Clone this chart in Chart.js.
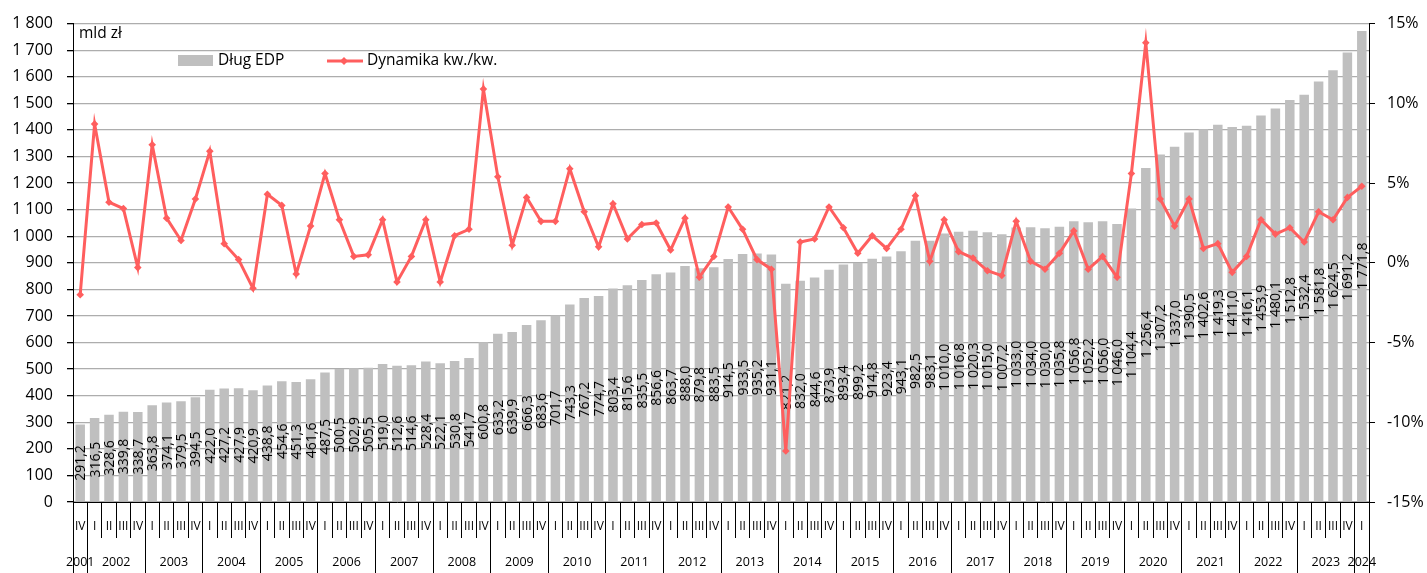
<!DOCTYPE html>
<html>
<head>
<meta charset="utf-8">
<script src="https://cdn.jsdelivr.net/npm/chart.js@4.4.1/dist/chart.umd.min.js"></script>
<style>
  html, body { margin: 0; padding: 0; background: #ffffff; }
  #wrap { width: 1427px; height: 573px; position: relative; }
</style>
</head>
<body>
<div id="wrap"><canvas id="c" width="1427" height="573"></canvas></div>
<script>
// ---------- DATA ----------
const Q = ['I', 'II', 'III', 'IV'];
const quarterLabels = ['IV'].concat(
  Q, Q, Q, Q, Q, Q, Q, Q, Q, Q, Q,
  Q, Q, Q, Q, Q, Q, Q, Q, Q, Q, Q,
  ['I']
);
const yearLabels = ['2001', '2002', '2003', '2004', '2005', '2006', '2007', '2008', '2009', '2010', '2011', '2012',
  '2013', '2014', '2015', '2016', '2017', '2018', '2019', '2020', '2021', '2022', '2023', '2024'];
const yearSpans = [1, 4, 4, 4, 4, 4, 4, 4, 4, 4, 4, 4, 4, 4, 4, 4, 4, 4, 4, 4, 4, 4, 4, 1];

// Dług EDP, mld zł
const debt = [
  291.2,
  316.5, 328.6, 339.8, 338.7,
  363.8, 374.1, 379.5, 394.5,
  422.0, 427.2, 427.9, 420.9,
  438.8, 454.6, 451.3, 461.6,
  487.5, 500.5, 502.9, 505.5,
  519.0, 512.6, 514.6, 528.4,
  522.1, 530.8, 541.7, 600.8,
  633.2, 639.9, 666.3, 683.6,
  701.7, 743.3, 767.2, 774.7,
  803.4, 815.6, 835.5, 856.6,
  863.7, 888.0, 879.8, 883.5,
  914.5, 933.5, 935.2, 931.1,
  821.2, 832.0, 844.6, 873.9,
  893.4, 899.2, 914.8, 923.4,
  943.1, 982.5, 983.1, 1010.0,
  1016.8, 1020.3, 1015.0, 1007.2,
  1033.0, 1034.0, 1030.0, 1035.8,
  1056.8, 1052.2, 1056.0, 1046.0,
  1104.4, 1256.4, 1307.2, 1337.0,
  1390.5, 1402.6, 1419.3, 1411.0,
  1416.1, 1453.9, 1480.1, 1512.8,
  1532.4, 1581.8, 1624.5, 1691.2,
  1771.8
];

// Dynamika kw./kw., %
const dynamics = [
  -2.0,
  8.7, 3.8, 3.4, -0.3,
  7.4, 2.8, 1.4, 4.0,
  7.0, 1.2, 0.2, -1.6,
  4.3, 3.6, -0.7, 2.3,
  5.6, 2.7, 0.4, 0.5,
  2.7, -1.2, 0.4, 2.7,
  -1.2, 1.7, 2.1, 10.9,
  5.4, 1.1, 4.1, 2.6,
  2.6, 5.9, 3.2, 1.0,
  3.7, 1.5, 2.4, 2.5,
  0.8, 2.8, -0.9, 0.4,
  3.5, 2.1, 0.2, -0.4,
  -11.8, 1.3, 1.5, 3.5,
  2.2, 0.6, 1.7, 0.9,
  2.1, 4.2, 0.1, 2.7,
  0.7, 0.3, -0.5, -0.8,
  2.6, 0.1, -0.4, 0.6,
  2.0, -0.4, 0.4, -0.9,
  5.6, 13.8, 4.0, 2.3,
  4.0, 0.9, 1.2, -0.6,
  0.4, 2.7, 1.8, 2.2,
  1.3, 3.2, 2.7, 4.1,
  4.8
];

const leftTicks = { min: 0, max: 1800, step: 100 };
const rightTicks = { min: -15, max: 15, step: 5 };
const unitLabel = 'mld zł';
const seriesNames = ['Dług EDP', 'Dynamika kw./kw.'];

// ---------- STYLE ----------
const FONT = "'Open Sans', sans-serif";
const BAR_COLOR = '#BFBFBF';
const LINE_COLOR = '#FF5E5E';
const GRID_COLOR = '#ADADAD';

// year boundary / centre positions on a 0..N scale
const yearBounds = [0];
yearSpans.forEach(s => yearBounds.push(yearBounds[yearBounds.length - 1] + s));
const yearCenters = yearSpans.map((s, i) => yearBounds[i] + s / 2);

function fmtNum(v, dec) {
  const s = v.toFixed(dec);
  const parts = s.split('.');
  const intPart = parts[0].replace(/\B(?=(\d{3})+(?!\d))/g, ' ');
  return parts.length > 1 ? intPart + ',' + parts[1] : intPart;
}

// bar value labels (drawn right after the bars, beneath the line)
const barLabelPlugin = {
  id: 'barLabels',
  afterDatasetDraw(chart, args) {
    if (args.index !== 1) return;
    const ctx = chart.ctx;
    const meta = args.meta;
    ctx.save();
    ctx.font = '14px ' + FONT;
    ctx.fillStyle = '#000';
    ctx.textAlign = 'center';
    ctx.textBaseline = 'middle';
    meta.data.forEach((bar, i) => {
      const y = (bar.y + bar.base) / 2;
      ctx.save();
      ctx.translate(bar.x, y);
      ctx.rotate(-Math.PI / 2);
      ctx.fillText(fmtNum(debt[i], 1), 0, 1);
      ctx.restore();
    });
    ctx.restore();
  }
};

// in-plot legend and unit text
const legendPlugin = {
  id: 'inLegend',
  afterDraw(chart) {
    const ctx = chart.ctx;
    ctx.save();
    ctx.font = '15.5px ' + FONT;
    ctx.fillStyle = '#000';
    ctx.textBaseline = 'middle';
    ctx.textAlign = 'left';
    ctx.fillText(unitLabel, 79, 34);
    // bar legend
    ctx.fillStyle = BAR_COLOR;
    ctx.fillRect(178, 55, 35, 11);
    ctx.fillStyle = '#000';
    ctx.fillText(seriesNames[0], 218, 61);
    // line legend
    ctx.strokeStyle = LINE_COLOR;
    ctx.lineWidth = 3;
    ctx.beginPath();
    ctx.moveTo(327, 61);
    ctx.lineTo(363, 61);
    ctx.stroke();
    ctx.fillStyle = LINE_COLOR;
    ctx.beginPath();
    ctx.moveTo(344, 57);
    ctx.lineTo(348, 61);
    ctx.lineTo(344, 65);
    ctx.lineTo(340, 61);
    ctx.closePath();
    ctx.fill();
    ctx.fillStyle = '#000';
    ctx.fillText(seriesNames[1], 367, 61);
    ctx.restore();
  }
};

const ctx = document.getElementById('c').getContext('2d');
new Chart(ctx, {
  type: 'bar',
  data: {
    labels: quarterLabels,
    datasets: [
      {
        type: 'line',
        label: seriesNames[1],
        data: dynamics,
        yAxisID: 'yR',
        xAxisID: 'x',
        borderColor: LINE_COLOR,
        backgroundColor: LINE_COLOR,
        borderWidth: 3,
        pointStyle: 'rectRot',
        pointRadius: 3.8,
        pointBorderWidth: 0,
        pointBackgroundColor: LINE_COLOR,
        tension: 0,
        fill: false
      },
      {
        type: 'bar',
        label: seriesNames[0],
        data: debt,
        yAxisID: 'y',
        xAxisID: 'x',
        backgroundColor: BAR_COLOR,
        borderWidth: 0,
        barPercentage: 0.66,
        categoryPercentage: 1.0
      }
    ]
  },
  options: {
    responsive: false,
    animation: false,
    devicePixelRatio: 1,
    layout: { padding: { top: 19, left: 0, right: 0, bottom: 0 } },
    plugins: {
      legend: { display: false },
      tooltip: { enabled: false },
      title: { display: false }
    },
    scales: {
      x: {
        type: 'category',
        position: 'bottom',
        weight: 0,
        offset: true,
        grid: {
          offset: true,
          drawOnChartArea: false,
          drawTicks: true,
          tickLength: 36,
          tickColor: '#000',
          tickWidth: 1
        },
        border: { display: true, color: '#000', width: 1 },
        ticks: {
          autoSkip: false,
          maxRotation: 0,
          minRotation: 0,
          padding: -19,
          color: '#000',
          font: { family: FONT, size: 12 }
        },
        afterFit(scale) { scale.height = 36; }
      },
      xYear: {
        type: 'linear',
        position: 'bottom',
        weight: 1,
        offset: false,
        min: 0,
        max: yearBounds[yearBounds.length - 1],
        afterBuildTicks(scale) {
          const t = [];
          yearBounds.forEach(v => t.push({ value: v }));
          yearCenters.forEach(v => t.push({ value: v }));
          t.sort((a, b) => a.value - b.value);
          scale.ticks = t;
        },
        grid: {
          offset: false,
          drawOnChartArea: false,
          drawTicks: true,
          tickLength: 35,
          tickColor: (c) => (c.tick && yearBounds.includes(c.tick.value)) ? '#000' : 'rgba(0,0,0,0)',
          color: (c) => (c.tick && yearBounds.includes(c.tick.value)) ? '#000' : 'rgba(0,0,0,0)',
          tickWidth: 1
        },
        border: { display: false },
        ticks: {
          autoSkip: false,
          maxRotation: 0,
          minRotation: 0,
          padding: -18,
          color: '#000',
          font: { family: FONT, size: 12.5 },
          callback: (v) => {
            const idx = yearCenters.indexOf(v);
            return idx >= 0 ? yearLabels[idx] : '';
          }
        },
        afterFit(scale) { scale.height = 35; }
      },
      y: {
        type: 'linear',
        position: 'left',
        min: leftTicks.min,
        max: leftTicks.max,
        ticks: {
          stepSize: leftTicks.step,
          color: '#000',
          padding: 14,
          font: { family: FONT, size: 16 },
          callback: (v) => fmtNum(v, 0)
        },
        grid: {
          color: GRID_COLOR,
          lineWidth: 1.3,
          tickColor: '#000',
          tickLength: 6,
          drawTicks: true
        },
        border: { display: true, color: '#000', width: 1 },
        afterFit(scale) { scale.width = 73; }
      },
      yR: {
        type: 'linear',
        position: 'right',
        min: rightTicks.min,
        max: rightTicks.max,
        ticks: {
          stepSize: rightTicks.step,
          color: '#000',
          padding: 12,
          font: { family: FONT, size: 16 },
          callback: (v) => v + '%'
        },
        grid: {
          drawOnChartArea: false,
          tickColor: '#000',
          tickLength: 6,
          drawTicks: true
        },
        border: { display: true, color: '#000', width: 1 },
        afterFit(scale) { scale.width = 58; }
      }
    }
  },
  plugins: [barLabelPlugin, legendPlugin]
});
</script>
</body>
</html>
